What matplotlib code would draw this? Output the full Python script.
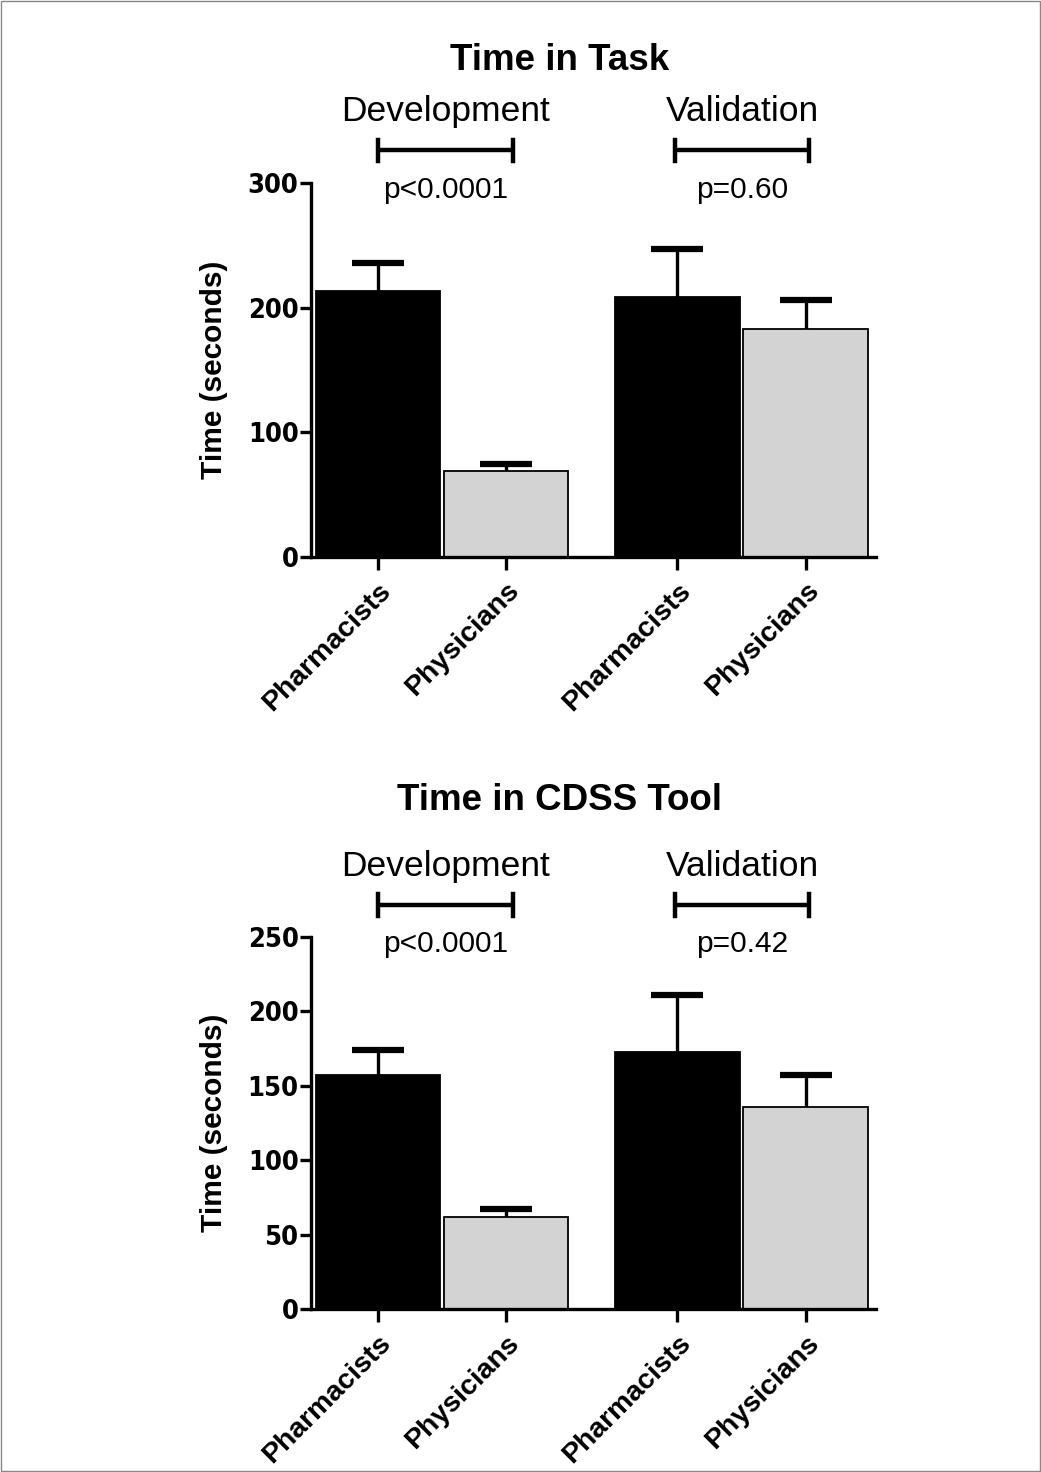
import matplotlib
matplotlib.use("Agg")
import matplotlib.pyplot as plt
import matplotlib.transforms as mtransforms
from matplotlib.patches import Rectangle

# ---- data ----
categories = ["Pharmacists", "Physicians", "Pharmacists", "Physicians"]
task_mean = [213.6, 69.0, 208.3, 183.1]
task_sem = [22.0, 5.4, 38.7, 23.3]
cdss_mean = [157.2, 61.9, 172.9, 136.1]
cdss_sem = [17.1, 5.3, 38.2, 21.4]
bar_colors = ["black", "#d3d3d3", "black", "#d3d3d3"]
positions = [0, 1, 2.34, 3.34]
groups = ["Development", "Validation"]
task_p = ["p<0.0001", "p=0.60"]
cdss_p = ["p<0.0001", "p=0.42"]

FAM = ["Liberation Sans", "DejaVu Sans"]

fig = plt.figure(figsize=(10.41, 14.72), dpi=100)
fig.patches.append(Rectangle((0.001, 0.001), 0.998, 0.998, transform=fig.transFigure,
                             fill=False, edgecolor="#888888", linewidth=1))


def panel(rect, means, sems, ymax, yticks, title, pvals, title_y):
    ax = fig.add_axes(rect)
    ax.bar(positions, means, width=0.97, color=bar_colors, edgecolor="black",
           linewidth=1.3, zorder=2)
    eb = ax.errorbar(positions, means, yerr=[[0] * len(sems), sems], fmt="none",
                     ecolor="black", elinewidth=2.4, capsize=19, capthick=4.5,
                     zorder=1)
    # hide the lower caps (GraphPad-style upward-only error bars)
    eb[1][0].set_visible(False)
    ax.set_xlim(-0.52, 3.89)
    ax.set_ylim(0, ymax)
    ax.set_yticks(yticks)
    ax.set_yticklabels([str(t) for t in yticks], fontfamily="DejaVu Sans",
                       fontstretch="condensed", fontweight="bold", fontsize=19.5)
    ax.set_xticks(positions)
    ax.set_xticklabels(categories, rotation=45, ha="right", va="top",
                       rotation_mode="anchor", fontfamily=FAM,
                       fontweight="bold", fontsize=20.5)
    for s in ["top", "right"]:
        ax.spines[s].set_visible(False)
    for s in ["left", "bottom"]:
        ax.spines[s].set_linewidth(2.4)
    ax.tick_params(axis="both", width=2.4, length=8, direction="out")
    ax.tick_params(axis="x", length=9, pad=6)
    ax.tick_params(axis="y", pad=1)
    ax.set_ylabel("Time (seconds)", fontfamily=FAM, fontweight="bold",
                  fontsize=21.5, labelpad=14)
    trans = mtransforms.blended_transform_factory(ax.transData, ax.transAxes)
    ax.text(1.42, title_y, title, transform=trans, ha="center", va="center",
            fontfamily=FAM, fontweight="bold", fontsize=26.5)
    brackets = [(0, 1.06), (2.32, 3.37)]
    for (x0, x1), g, p in zip(brackets, groups, pvals):
        ax.plot([x0, x1], [1.087, 1.087], transform=trans, color="black",
                linewidth=3.2, clip_on=False, solid_capstyle="butt")
        for xx in (x0, x1):
            ax.plot([xx, xx], [1.058, 1.116], transform=trans, color="black",
                    linewidth=3.2, clip_on=False)
        xm = (x0 + x1) / 2
        ax.text(xm, 1.19, g, transform=trans, ha="center", va="center",
                fontfamily=FAM, fontsize=25.5)
        ax.text(xm, 0.982, p, transform=trans, ha="center", va="center",
                fontfamily=FAM, fontsize=21.5)
    return ax


panel([0.2988, 0.6216, 0.5427, 0.2541], task_mean, task_sem, 300,
      [0, 100, 200, 300], "Time in Task", task_p, 1.328)
panel([0.2988, 0.1107, 0.5427, 0.2527], cdss_mean, cdss_sem, 250,
      [0, 50, 100, 150, 200, 250], "Time in CDSS Tool", cdss_p, 1.368)

fig.savefig("out.png", dpi=100)
